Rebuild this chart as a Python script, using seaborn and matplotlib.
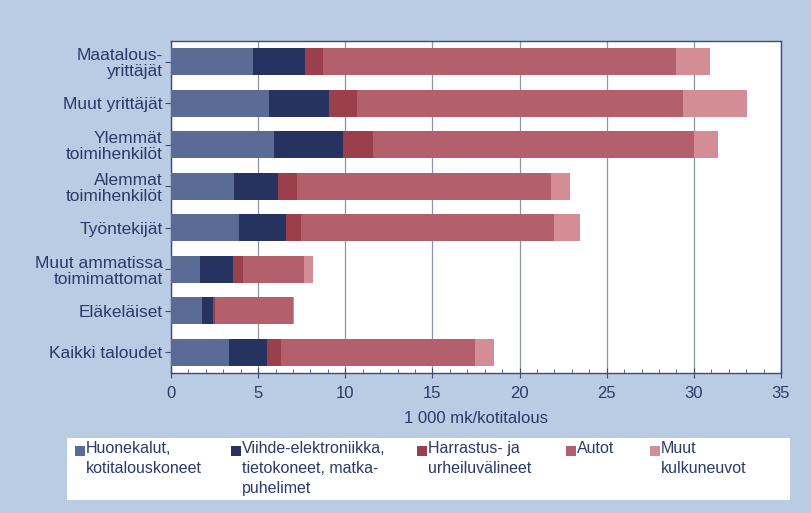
import numpy as np
import pandas as pd
import matplotlib
matplotlib.use('Agg')
import matplotlib.pyplot as plt
import seaborn as sns
from matplotlib.patches import Rectangle
from matplotlib.ticker import MultipleLocator

# ryhmät (y-akseli)
groups = ['Maatalous-\nyrittäjät', 'Muut yrittäjät', 'Ylemmät\ntoimihenkilöt',
          'Alemmat\ntoimihenkilöt', 'Työntekijät', 'Muut ammatissa\ntoimimattomat',
          'Eläkeläiset', 'Kaikki taloudet']

# menot 1 000 mk/kotitalous
huonekalut = [4.7, 5.64, 5.91, 3.61, 3.90, 1.66, 1.78, 3.35]
viihde = [3.0, 3.44, 3.94, 2.55, 2.70, 1.92, 0.61, 2.14]
harrastus = [1.0, 1.61, 1.72, 1.05, 0.86, 0.57, 0.13, 0.82]
autot = [20.25, 18.7, 18.44, 14.57, 14.5, 3.48, 4.5, 11.15]
muut_kulk = [1.95, 3.64, 1.35, 1.11, 1.49, 0.50, 0.06, 1.05]

series_labels = ['Huonekalut,\nkotitalouskoneet',
                 'Viihde-elektroniikka,\ntietokoneet, matka-\npuhelimet',
                 'Harrastus- ja\nurheiluvälineet', 'Autot', 'Muut\nkulkuneuvot']
colors = ['#5a6c95', '#263360', '#9b3f4c', '#b4606c', '#d48c95']

navy = '#2b3a6b'
bg = '#b9cce3'

plt.rcParams['font.family'] = ['Liberation Sans', 'DejaVu Sans']

df = pd.DataFrame({'ryhma': groups, 's0': huonekalut, 's1': viihde, 's2': harrastus,
                   's3': autot, 's4': muut_kulk})
cols = ['s0', 's1', 's2', 's3', 's4']
cum = df[cols].cumsum(axis=1)

fig = plt.figure(figsize=(8.12, 5.13), dpi=100, facecolor=bg)
ax = fig.add_axes([0.2106, 0.2729, 0.7512, 0.6472])
ax.set_facecolor('white')

# pinotut palkit: piirretään kumulatiiviset summat suurimmasta pienimpään
for i in reversed(range(len(cols))):
    sns.barplot(x=cum[cols[i]].values, y=df['ryhma'], orient='h', color=colors[i],
                saturation=1, width=0.65, ax=ax, zorder=3, linewidth=0)

ax.set_xlim(0, 35)
ax.set_ylim(7.5, -0.5)
ax.xaxis.set_major_locator(MultipleLocator(5))
ax.xaxis.set_minor_locator(MultipleLocator(1))
ax.grid(axis='x', which='major', color='#8c95ab', linewidth=0.9, zorder=0)
ax.set_axisbelow(True)

for s in ax.spines.values():
    s.set_color('#3d4c7a')
    s.set_linewidth(1.0)

ax.tick_params(axis='x', which='major', direction='inout', length=7, color='#3d4c7a',
               labelsize=12, labelcolor=navy, pad=6)
ax.tick_params(axis='x', which='minor', direction='in', length=3, color='#3d4c7a')
ax.tick_params(axis='y', direction='out', length=4, color='#3d4c7a',
               labelsize=12.5, labelcolor=navy, pad=2)
for t in ax.get_yticklabels():
    t.set_multialignment('right')
    t.set_linespacing(1.1)

ax.set_ylabel('')
ax.set_xlabel('1 000 mk/kotitalous', fontsize=12, color=navy, labelpad=7)

# selite
fig.patches.append(Rectangle((67 / 812, 1 - 500 / 513), (790 - 67) / 812, 62 / 513,
                             transform=fig.transFigure, facecolor='white',
                             edgecolor='none', zorder=1))
leg_x = [75, 231, 417, 566, 650]
for lx, lab, c in zip(leg_x, series_labels, colors):
    fig.patches.append(Rectangle((lx / 812, 1 - 456 / 513), 10 / 812, 10 / 513,
                                 transform=fig.transFigure, facecolor=c,
                                 edgecolor='none', zorder=2))
    fig.text((lx + 11) / 812, 1 - 441 / 513, lab, ha='left', va='top',
             fontsize=11.5, color=navy, linespacing=1.4, zorder=3)

fig.savefig('out.png', dpi=100, facecolor=bg)
